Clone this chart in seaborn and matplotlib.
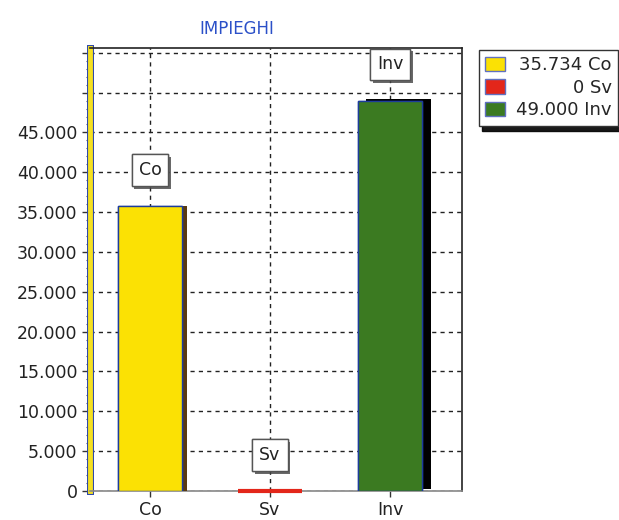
import matplotlib
matplotlib.use("Agg")
import matplotlib.pyplot as plt
import matplotlib.patheffects as pe
from matplotlib.patches import Patch
from matplotlib.ticker import FuncFormatter, MultipleLocator
import seaborn as sns
import pandas as pd

# Data
categories = ["Co", "Sv", "Inv"]
values = [35734, 0, 49000]
colors = ["#fbe104", "#e3261a", "#3b7a21"]
title = "IMPIEGHI"


def it_fmt(v):
    return f"{v:,.0f}".replace(",", ".") if v else "0"


sns.set_theme(style="white")
plt.rcParams["font.family"] = ["DejaVu Sans"]

fig = plt.figure(figsize=(6.19, 5.2), dpi=100)
ax = fig.add_axes([90 / 619, 1 - 491 / 520, 372 / 619, 443 / 520])

df = pd.DataFrame({"cat": categories, "val": values})
sns.barplot(data=df, x="cat", y="val", hue="cat", palette=colors, width=0.54,
            saturation=1, legend=False, ax=ax, edgecolor="#1d3c9c", linewidth=1, zorder=3)

ax.set_xlim(-0.5, 2.6)
ax.set_ylim(0, 55600)
ax.set_xlabel("")
ax.set_ylabel("")

# 3D-ish depth shadows on the bars
bars = ax.patches
shadow_styles = [((3, 0), "#5a3a10"), ((0, 0), "#e3261a"), ((6, 1.5), "black")]
for bar, (off, col) in zip(bars, shadow_styles):
    bar.set_path_effects([pe.withSimplePatchShadow(offset=off, shadow_rgbFace=col, alpha=1),
                          pe.Normal()])
# zero-height bar shows as a flat slab
for bar, v, c in zip(bars, values, colors):
    if v == 0:
        bar.set_edgecolor(c)
        bar.set_linewidth(3)
        bar.set_clip_on(False)
        bar.set_path_effects([])

# Axes, ticks and grid
ax.yaxis.set_major_locator(MultipleLocator(5000))
ax.yaxis.set_minor_locator(MultipleLocator(1000))
ax.yaxis.set_major_formatter(FuncFormatter(lambda v, _: it_fmt(v) if v <= 45000 else ""))
ax.tick_params(axis="y", which="major", left=True, length=6, width=1, color="#333",
               labelsize=12.5, pad=3, labelcolor="#222")
ax.tick_params(axis="y", which="minor", left=True, length=3, width=0.8, color="#555")
ax.tick_params(axis="x", bottom=True, length=4, width=1, color="#333",
               labelsize=12.5, pad=3, labelcolor="#222")

ax.grid(True, axis="both", linestyle=(0, (3, 3)), color="#222", linewidth=1)
ax.set_axisbelow(True)

for side in ("top", "right"):
    ax.spines[side].set_color("#222")
    ax.spines[side].set_linewidth(1.2)
ax.spines["bottom"].set_color("#888")
ax.spines["bottom"].set_linewidth(1.2)
ax.spines["left"].set_color("#f5e020")
ax.spines["left"].set_linewidth(3.5)
ax.spines["left"].set_path_effects([pe.Stroke(linewidth=5, foreground="#2a44a8"), pe.Normal()])

# Boxed category labels above the bars
for i, (cat, v) in enumerate(zip(categories, values)):
    ann = ax.annotate(cat, xy=(i, v), xytext=(0, 26), textcoords="offset points",
                      ha="center", va="center", fontsize=12.5, color="#222", zorder=6,
                      bbox=dict(boxstyle="square,pad=0.4", fc="white", ec="#555", lw=1))
    ann.get_bbox_patch().set_path_effects(
        [pe.withSimplePatchShadow(offset=(2, -2), shadow_rgbFace="#444", alpha=0.8), pe.Normal()])

ax.set_title(title, x=(237 - 90) / 372, color="#2b50c8", fontsize=12, pad=10)

# Legend with value + category, right-aligned
handles = [Patch(facecolor=c, edgecolor="#6070c0") for c in colors]
labels = [f"{it_fmt(v) if v == 0 else f'{v / 1000:.3f}'} {c}" for v, c in zip(values, categories)]
leg = ax.legend(handles, labels, loc="upper left", bbox_to_anchor=(479 / 619, 1 - 50 / 520),
                bbox_transform=fig.transFigure, frameon=True, fancybox=False,
                shadow={"ox": 2, "oy": -4, "color": "black", "alpha": 0.9},
                edgecolor="#333", fontsize=13, handlelength=1.1, handleheight=0.85,
                handletextpad=0.6, labelspacing=0.25, borderpad=0.35, borderaxespad=0)
leg.get_frame().set_linewidth(1)
fig.canvas.draw()
renderer = fig.canvas.get_renderer()
widths = [t.get_window_extent(renderer).width for t in leg.get_texts()]
for t, w in zip(leg.get_texts(), widths):
    t.set_position((max(widths) - w, 0))

fig.savefig("out.png", dpi=100)
